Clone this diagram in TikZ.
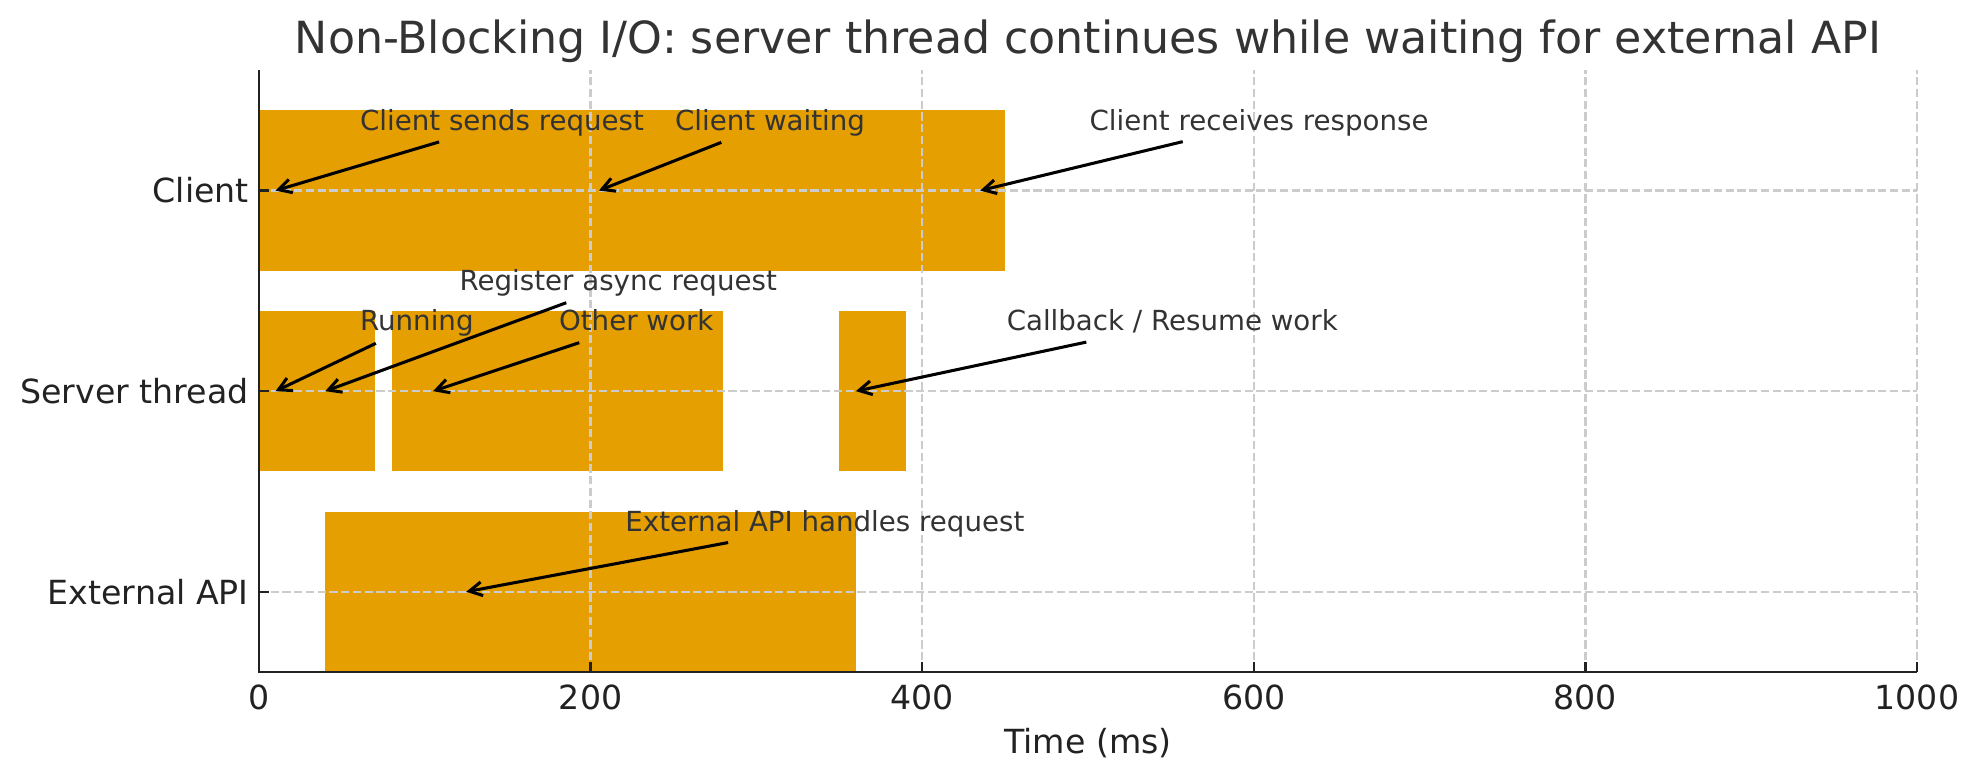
\documentclass[tikz,border=0pt]{standalone}
\usepackage{fontspec}
\setmainfont{DejaVu Sans}
\usepackage{xcolor}
\definecolor{barfill}{RGB}{230,159,0}
\definecolor{ink}{RGB}{51,51,51}
\definecolor{axisink}{RGB}{34,34,34}
\definecolor{gridc}{RGB}{204,204,204}
\usetikzlibrary{arrows.meta}

\begin{document}
\begin{tikzpicture}[x=0.0210566cm, y=2.5476cm, >={Straight Barb[length=4.6pt,width=5pt]}]
\tikzset{bar/.style={fill=barfill},
  grd/.style={draw=gridc, line width=0.8pt, dash pattern=on 2.96pt off 1.28pt},
  spine/.style={draw=axisink, line width=0.8pt},
  note/.style={font=\fontsize{10}{12}\selectfont, text=ink, anchor=base west, inner sep=1pt, text height=7.6pt, text depth=2.4pt},
  ytick/.style={font=\fontsize{12}{14}\selectfont, text=axisink, anchor=east, inner sep=0pt, xshift=-3.5pt},
  xtick/.style={font=\fontsize{12}{14}\selectfont, text=axisink, anchor=base, inner sep=0pt, yshift=-13.5pt},
  pointer/.style={->, line width=1.1pt, black, shorten <=2pt}}
\useasboundingbox (-156.2,-0.937) rectangle (1037.4,2.950);
% bars
\fill[bar] (0,1.6) rectangle (450,2.4);
\fill[bar] (0,0.6) rectangle (70,1.4);
\fill[bar] (80,0.6) rectangle (280,1.4);
\fill[bar] (350,0.6) rectangle (390,1.4);
\fill[bar] (40,-0.4) rectangle (360,0.4);
% grid
\draw[grd] (200,-0.4) -- (200,2.6) (400,-0.4) -- (400,2.6) (600,-0.4) -- (600,2.6) (800,-0.4) -- (800,2.6) (1000,-0.4) -- (1000,2.6);
\draw[grd] (0,2) -- (1000,2) (0,1) -- (1000,1) (0,0) -- (1000,0);
% axes
\draw[spine] (0,2.6) -- (0,-0.4) -- (1000,-0.4);
\draw[spine] (0,2) -- ++(3.5pt,0) (0,1) -- ++(3.5pt,0) (0,0) -- ++(3.5pt,0);
\draw[spine] (200,-0.4) -- ++(0,3.5pt) (400,-0.4) -- ++(0,3.5pt) (600,-0.4) -- ++(0,3.5pt) (800,-0.4) -- ++(0,3.5pt) (1000,-0.4) -- ++(0,3.5pt);
\node[ytick] (client) at (0,2) {Client};
\node[ytick] (server) at (0,1) {Server thread};
\node[ytick] (extapi) at (0,0) {External API};
\node[xtick] (t0)    at (0,-0.4)    {0};
\node[xtick] (t200)  at (200,-0.4)  {200};
\node[xtick] (t400)  at (400,-0.4)  {400};
\node[xtick] (t600)  at (600,-0.4)  {600};
\node[xtick] (t800)  at (800,-0.4)  {800};
\node[xtick] (t1000) at (1000,-0.4) {1000};
\node[xtick, yshift=-16pt] (xlab) at (500,-0.4) {Time (ms)};
\node[font=\fontsize{16}{19}\selectfont, text=ink, anchor=base, inner sep=0pt, yshift=6pt] (title) at (500,2.6) {Non-Blocking I/O: server thread continues while waiting for external API};
% annotations
\coordinate (pSend)  at (10,2);
\coordinate (pWait)  at (205,2);
\coordinate (pRecv)  at (435,2);
\coordinate (pRun)   at (10,1);
\coordinate (pReg)   at (40,1);
\coordinate (pOther) at (105,1);
\coordinate (pCb)    at (360,1);
\coordinate (pExt)   at (125,0);
\node[note] (tSend)  at (59,2.3)  {Client sends request};
\node[note] (tWait)  at (249,2.3) {Client waiting};
\node[note] (tRecv)  at (499,2.3) {Client receives response};
\node[note] (tRun)   at (59,1.3)  {Running};
\node[note] (tReg)   at (119,1.5) {Register async request};
\node[note] (tOther) at (179,1.3) {Other work};
\node[note] (tCb)    at (449,1.3) {Callback / Resume work};
\node[note] (tExt)   at (219,0.3) {External API handles request};
\draw[pointer] (tSend) -- (pSend);
\draw[pointer] (tWait) -- (pWait);
\draw[pointer] (tRecv) -- (pRecv);
\draw[pointer] (tRun) -- (pRun);
\draw[pointer] (tReg) -- (pReg);
\draw[pointer] (tOther) -- (pOther);
\draw[pointer] (tCb) -- (pCb);
\draw[pointer] (tExt) -- (pExt);
\end{tikzpicture}
\end{document}
